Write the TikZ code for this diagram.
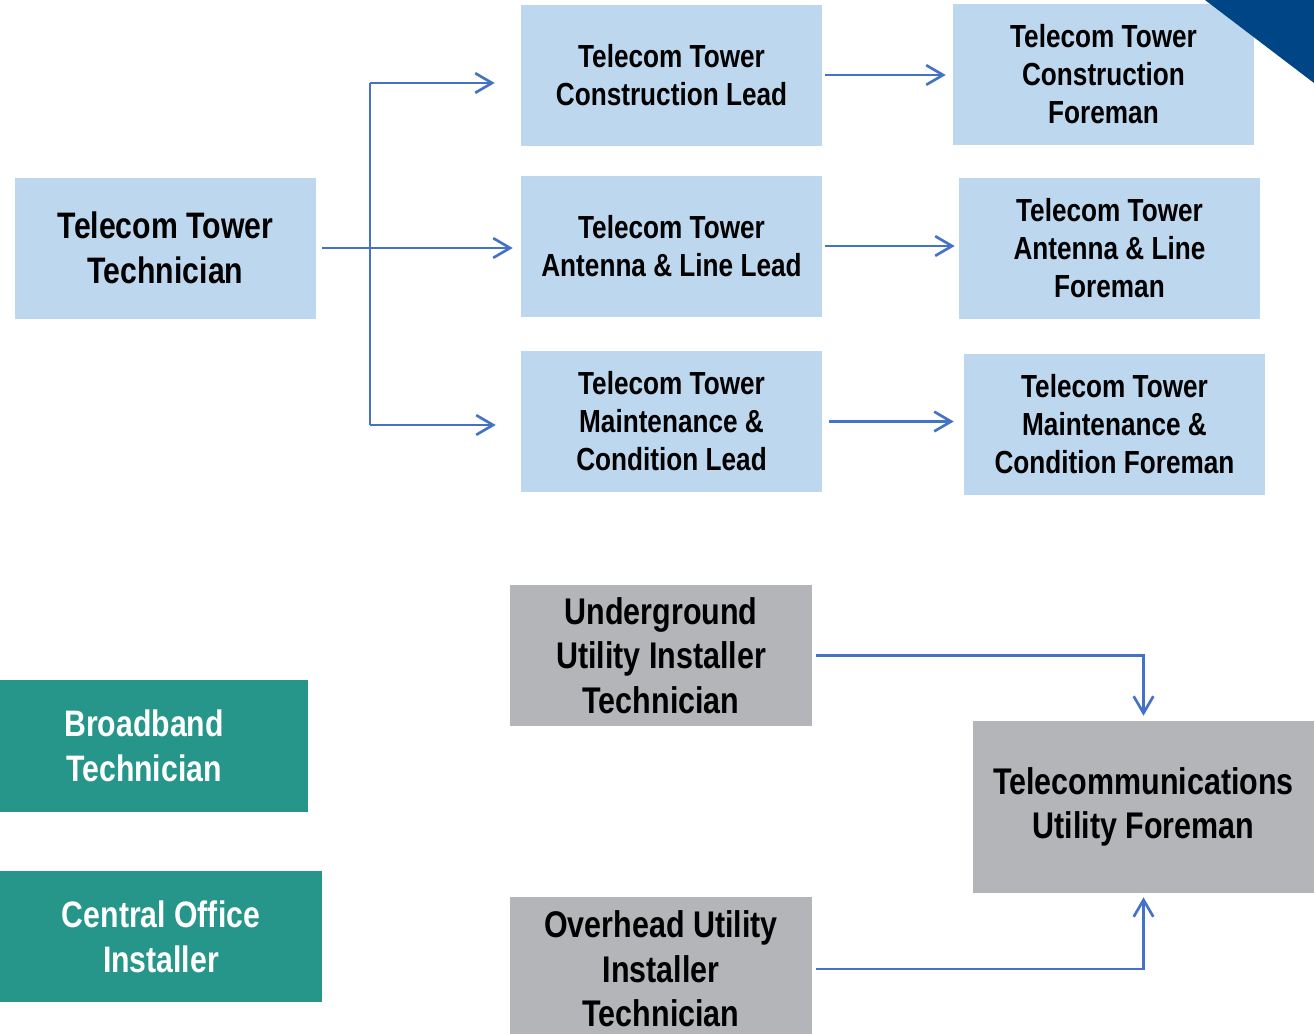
\documentclass[tikz,border=0pt]{standalone}
\usepackage{fontspec}
\setmainfont{Liberation Sans}[FakeStretch=0.82]
\usetikzlibrary{arrows.meta}
\definecolor{boxblue}{HTML}{BDD7EE}
\definecolor{boxgray}{HTML}{B4B5B9}
\definecolor{boxteal}{HTML}{27968A}
\definecolor{linkblue}{HTML}{4472C4}
\definecolor{cornernavy}{HTML}{004586}
\begin{document}
\begin{tikzpicture}[x=0.025cm,y=-0.025cm,
  box/.style={inner sep=0pt,align=center},
  bluebox/.style={box,fill=boxblue,minimum width=301*0.025cm,minimum height=141*0.025cm,
    font=\fontsize{22.7}{27}\selectfont\bfseries},
  graybox/.style={box,fill=boxgray,minimum width=302*0.025cm,
    font=\fontsize{26.4}{31.5}\selectfont\bfseries},
  tealbox/.style={box,fill=boxteal,text=white,
    font=\fontsize{26.2}{32}\selectfont\bfseries},
  link/.style={draw=linkblue,line width=1.9pt},
  tip/.style={-{Straight Barb[length=12pt,width=14pt,line width=1.9pt]}}]
  \clip (0,0) rectangle (1314,1033);
  % tower path
  \node[bluebox,font=\fontsize{26.2}{32}\selectfont\bfseries] (tech) at (165.5,248) {Telecom Tower\\Technician};
  \node[bluebox] (clead) at (671.5,75) {Telecom Tower\\Construction Lead};
  \node[bluebox] (alead) at (671.5,246) {Telecom Tower\\Antenna \& Line Lead};
  \node[bluebox] (mlead) at (671.5,421.5) {Telecom Tower\\Maintenance \&\\Condition Lead};
  \node[bluebox] (cfore) at (1103.5,74.5) {Telecom Tower\\Construction\\Foreman};
  \node[bluebox] (afore) at (1109.5,248) {Telecom Tower\\Antenna \& Line\\Foreman};
  \node[bluebox] (mfore) at (1114.5,424) {Telecom Tower\\Maintenance \&\\Condition Foreman};
  % utility path
  \node[graybox,minimum height=141*0.025cm] (under) at (661,655.5) {Underground\\Utility Installer\\Technician};
  \node[graybox,minimum height=144*0.025cm] (over) at (661,969) {Overhead Utility\\Installer\\Technician};
  \node[graybox,minimum width=341*0.025cm,minimum height=172*0.025cm] (ufore) at (1143.5,807) {Telecommunications\\Utility Foreman};
  % other jobs
  \node[tealbox,minimum width=328*0.025cm,minimum height=132*0.025cm] (broad) at (144,746) {Broadband\\Technician};
  \node[tealbox,minimum width=322*0.025cm,minimum height=131*0.025cm] (central) at (161,936.5) {Central Office\\Installer};
  % connectors
  \coordinate (top) at (370,83);
  \coordinate (bot) at (370,425);
  \draw[link] (top) -- (bot);
  \draw[link,tip] (top) -- ([xshift=-0.65cm]top -| clead.west);
  \draw[link,tip] (bot) -- ([xshift=-0.625cm]bot -| mlead.west);
  \draw[link,tip,shorten <=0.15cm,shorten >=0.2cm] (tech.east) -- (tech.east -| alead.west);
  \draw[link,tip,shorten <=0.075cm,shorten >=0.175cm] (clead.east) -- (clead.east -| cfore.west);
  \draw[link,tip,shorten <=0.075cm,shorten >=0.1cm] (alead.east) -- (alead.east -| afore.west);
  \draw[link,tip,shorten <=0.175cm,shorten >=0.25cm] (mlead.east) -- (mlead.east -| mfore.west);
  \draw[link,tip,shorten <=0.1cm,shorten >=0.125cm] (under.east) -- (under.east -| ufore.north) -- (ufore.north);
  \draw[link,tip,shorten <=0.1cm,shorten >=0.1cm] (over.east) -- (over.east -| ufore.south) -- (ufore.south);
  % corner mark
  \fill[cornernavy] (1205,0) -- (1314,0) -- (1314,83) -- cycle;
\end{tikzpicture}
\end{document}
